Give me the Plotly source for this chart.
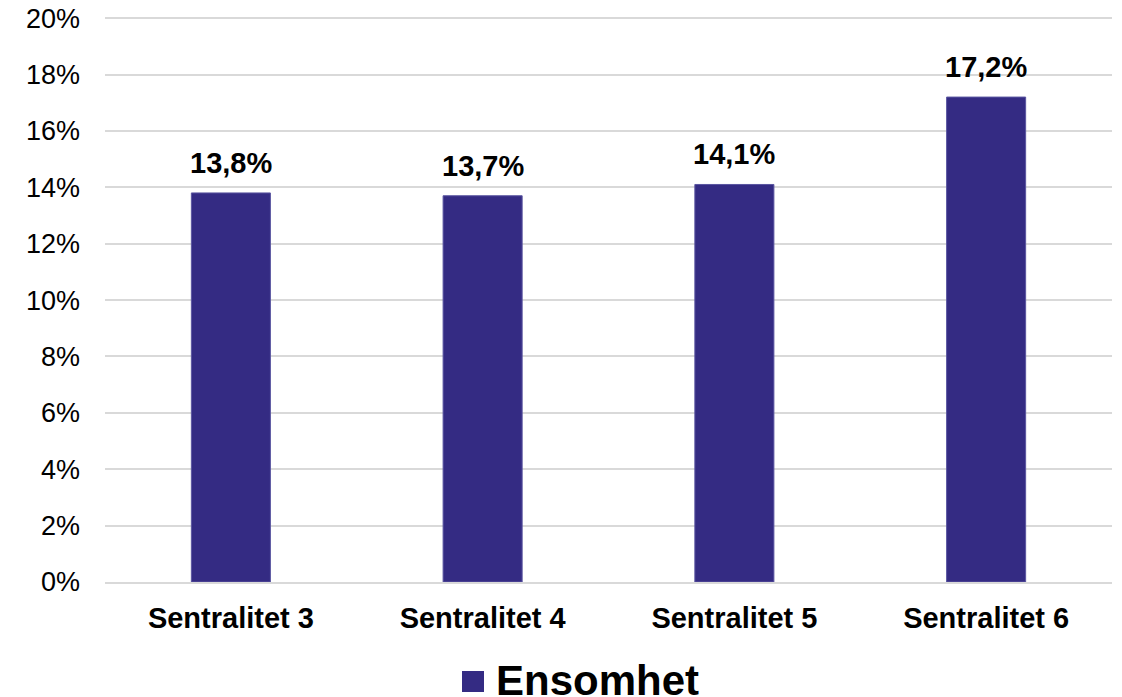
import plotly.graph_objects as go

categories = ["Sentralitet 3", "Sentralitet 4", "Sentralitet 5", "Sentralitet 6"]
values = [13.8, 13.7, 14.1, 17.2]
series_name = "Ensomhet"
tick_vals = [0, 2, 4, 6, 8, 10, 12, 14, 16, 18, 20]
tick_text = [f"{v}%" for v in tick_vals]

BAR = "#342B83"
FONT = "Liberation Sans, Arial, sans-serif"

fig = go.Figure()
fig.add_trace(go.Bar(
    x=categories, y=values, name=series_name,
    marker=dict(color=BAR, line=dict(color="#5A55A0", width=1)),
    width=0.314, showlegend=False,
))

for c, v in zip(categories, values):
    fig.add_annotation(
        x=c, y=v, text=f"<b>{v:.1f}%</b>".replace(".", ","),
        showarrow=False, yanchor="bottom", yshift=12,
        font=dict(family=FONT, size=29, color="#000000"),
    )

L, R, T, B = 105, 10, 17, 115
W, H = 1122, 697
pw = W - L - R
ph = H - T - B

def px(x):
    return (x - L) / pw

def py(y):
    return (H - B - y) / ph

fig.add_shape(type="rect", xref="paper", yref="paper",
              x0=px(462), x1=px(484), y0=py(671), y1=py(692),
              fillcolor=BAR, line=dict(width=0))
fig.add_annotation(xref="paper", yref="paper", x=px(494), y=py(680),
                   xanchor="left", yanchor="middle", showarrow=False,
                   text="<b>" + series_name + "</b>",
                   font=dict(family=FONT, size=42, color="#000000"))

fig.update_layout(
    width=W, height=H,
    margin=dict(l=L, r=R, t=T, b=B),
    plot_bgcolor="white", paper_bgcolor="white",
    font=dict(family=FONT, color="#000000"),
    bargap=0.686,
    showlegend=False,
)
fig.update_yaxes(
    range=[0, 20.04], tickvals=tick_vals, ticktext=tick_text,
    showgrid=True, gridcolor="#D9D9D9", gridwidth=1.5,
    zeroline=False, showline=False, automargin=False,
    tickfont=dict(family=FONT, size=27, color="#000000"),
    ticklabelstandoff=24, ticks="",
)
fig.update_xaxes(
    showline=True, linecolor="#D9D9D9", linewidth=1.5, automargin=False,
    tickfont=dict(family=FONT, size=29, color="#000000"),
    ticks="", ticklabelstandoff=9,
    tickprefix="<b>", ticksuffix="</b>",
)

fig.write_html(
    "out.html",
    config={"displayModeBar": False},
    post_script="document.body.style.margin='0';document.body.style.overflow='hidden';",
)
